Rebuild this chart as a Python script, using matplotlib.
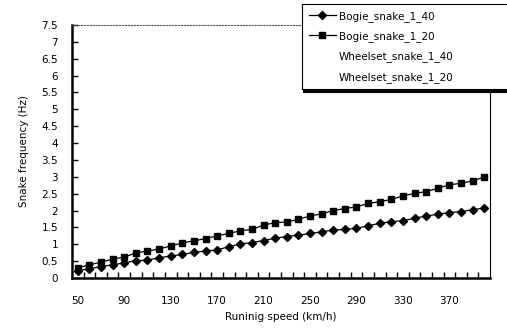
import numpy as np
import matplotlib
matplotlib.use("Agg")
import matplotlib.pyplot as plt
from matplotlib.lines import Line2D

# running speed categories (km/h)
speeds = list(range(50, 401, 10))

# snake frequencies (Hz)
bogie_1_40 = [0.22, 0.27, 0.34, 0.39, 0.45, 0.51, 0.53, 0.60, 0.65, 0.70,
              0.76, 0.80, 0.83, 0.93, 1.01, 1.05, 1.11, 1.18, 1.23, 1.27,
              1.32, 1.37, 1.42, 1.44, 1.47, 1.55, 1.62, 1.67, 1.70, 1.77,
              1.84, 1.89, 1.94, 1.97, 2.02, 2.08]
bogie_1_20 = [0.30, 0.39, 0.47, 0.56, 0.62, 0.74, 0.80, 0.86, 0.95, 1.04,
              1.10, 1.17, 1.25, 1.32, 1.40, 1.44, 1.57, 1.64, 1.66, 1.74,
              1.84, 1.90, 2.00, 2.06, 2.11, 2.21, 2.26, 2.33, 2.43, 2.51,
              2.56, 2.66, 2.76, 2.81, 2.88, 2.99]

series_names = ["Bogie_snake_1_40", "Bogie_snake_1_20",
                "Wheelset_snake_1_40", "Wheelset_snake_1_20"]

yticks = np.arange(0, 7.51, 0.5)
xlabel_every = 4

fig = plt.figure(figsize=(5.07, 3.32), dpi=100)
ax = fig.add_axes([72 / 507, 54 / 332, 418 / 507, 253 / 332])

x = np.arange(len(speeds))
ax.plot(x, bogie_1_40, color="black", lw=0.9, marker="D", ms=4.2)
ax.plot(x, bogie_1_20, color="black", lw=0.9, marker="s", ms=5)

ax.set_xlim(-0.5, len(speeds) - 0.5)
ax.set_ylim(0, 7.5)

# y axis
ax.set_yticks(yticks)
ax.set_yticklabels([f"{v:g}" for v in yticks])
ax.tick_params(axis="y", direction="in", length=4, width=1, pad=10,
               labelsize=7.5)

# x axis: category labels at centres, ticks on category boundaries
ax.set_xticks(x[::xlabel_every])
ax.set_xticklabels([str(s) for s in speeds[::xlabel_every]])
ax.tick_params(axis="x", which="major", length=0, pad=13, labelsize=7.5)
ax.set_xticks(np.arange(0.5, len(speeds) - 1, 1), minor=True)
ax.tick_params(axis="x", which="minor", direction="in", length=4, width=1)

ax.spines["left"].set_linewidth(1.8)
ax.spines["bottom"].set_linewidth(1.8)
ax.spines["right"].set_linewidth(0.8)
ax.spines["top"].set_linewidth(0.8)
ax.spines["top"].set_linestyle(":")
ax.spines["top"].set_color("#555555")

ax.set_xlabel("Runinig speed (km/h)", fontsize=7.5, labelpad=4.5)
ax.set_ylabel("Snake frequency (Hz)", fontsize=7.5, labelpad=9)

handles = [
    Line2D([], [], color="black", lw=0.9, marker="D", ms=4.2),
    Line2D([], [], color="black", lw=0.9, marker="s", ms=5),
    Line2D([], [], color="none"),
    Line2D([], [], color="none"),
]
# legend box runs past the right edge of the figure, as in the original
leg = fig.legend(handles, series_names, loc="upper left",
                 bbox_to_anchor=(302 / 507, 0, 225 / 507, 1 - 4 / 332),
                 mode="expand", fontsize=7.5,
                 frameon=True, fancybox=False,
                 shadow={"color": "black", "alpha": 1.0, "ox": 1, "oy": -2.2},
                 handlelength=2.6, handletextpad=0.3, labelspacing=0.9,
                 borderpad=0.65, borderaxespad=0)
leg.get_frame().set_edgecolor("black")
leg.get_frame().set_linewidth(0.8)

fig.savefig("out.png", dpi=100)
